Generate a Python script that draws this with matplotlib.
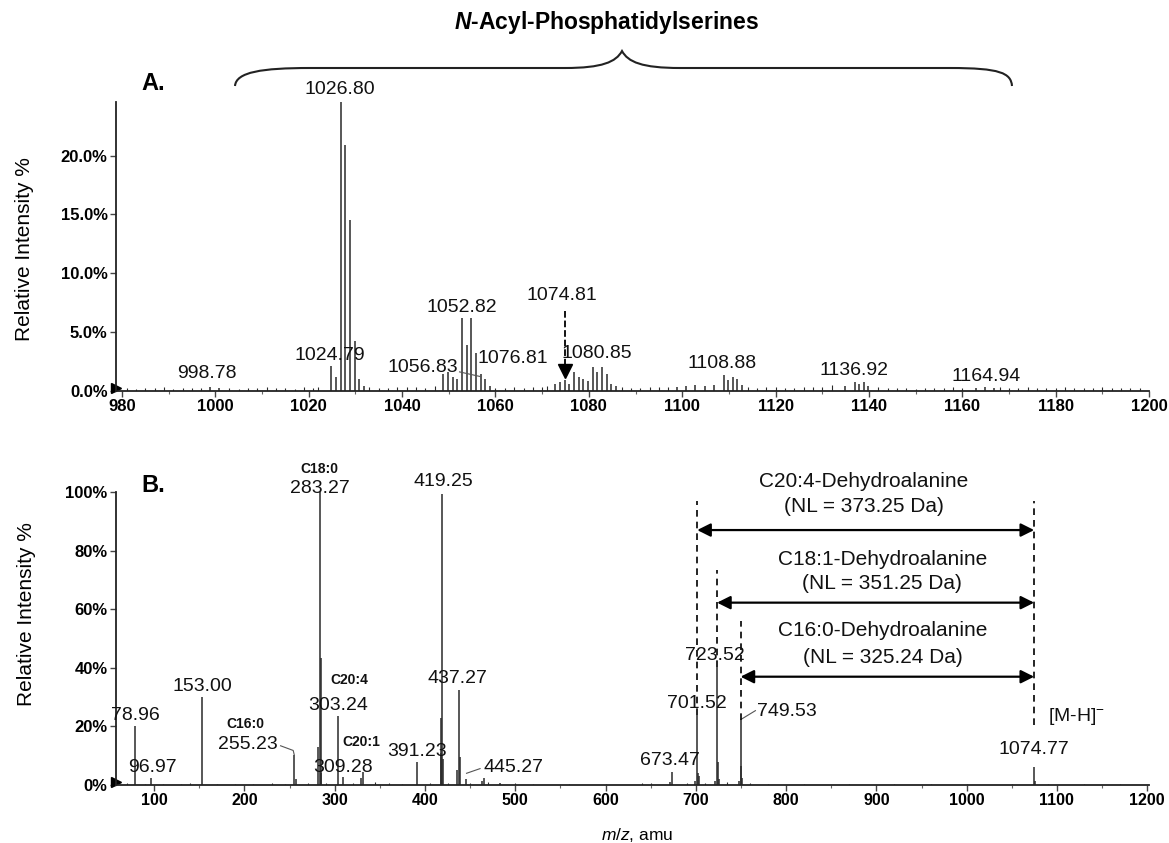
import matplotlib
matplotlib.use("Agg")
import matplotlib.pyplot as plt
from matplotlib.path import Path
from matplotlib.patches import PathPatch
from matplotlib.transforms import Affine2D

plt.rcParams['font.family'] = ['Liberation Sans', 'DejaVu Sans']
plt.rcParams['mathtext.fontset'] = 'custom'
plt.rcParams['mathtext.rm'] = 'Liberation Sans'
plt.rcParams['mathtext.it'] = 'Liberation Sans:italic'
plt.rcParams['mathtext.bf'] = 'Liberation Sans:bold'
plt.rcParams['mathtext.bfit'] = 'Liberation Sans:italic:bold'

# ---- Panel A: full scan, N-acyl-PS region ----
mz_a = [998.78, 1000.8, 1024.79, 1025.8, 1026.80, 1027.80, 1028.80, 1029.80, 1030.8, 1031.8,
        1048.8, 1049.8, 1050.8, 1051.8, 1052.82, 1053.8, 1054.82, 1055.8, 1056.83, 1057.8, 1058.8,
        1072.8, 1073.8, 1074.81, 1075.8, 1076.81, 1077.8, 1078.8, 1079.8, 1080.85, 1081.8,
        1082.85, 1083.8, 1084.8, 1085.8, 1098.8, 1100.8, 1102.8, 1104.8, 1106.8, 1108.88,
        1109.8, 1110.88, 1111.8, 1112.8, 1134.9, 1136.92, 1137.9, 1138.9, 1139.9, 1162.9,
        1164.94, 1166.9]
int_a = [0.35, 0.2, 2.1, 1.2, 24.6, 20.9, 14.5, 4.2, 1.0, 0.4,
         1.4, 1.6, 1.2, 1.0, 6.2, 3.9, 6.2, 3.2, 1.4, 1.0, 0.4,
         0.6, 0.7, 0.9, 0.6, 1.6, 1.2, 1.0, 0.8, 2.0, 1.6,
         2.0, 1.4, 0.6, 0.4, 0.3, 0.4, 0.5, 0.4, 0.5, 1.3,
         0.9, 1.2, 1.0, 0.5, 0.4, 0.7, 0.6, 0.7, 0.4, 0.25,
         0.3, 0.25]

noise_mz_a = [981, 983, 985, 987, 989, 991, 993, 995, 997, 1003, 1005, 1007, 1009, 1011,
              1013, 1015, 1017, 1019, 1021, 1022, 1033, 1035, 1037, 1039, 1041, 1043, 1045,
              1047, 1060, 1062, 1064, 1066, 1068, 1070, 1071, 1087, 1089, 1091, 1093, 1095,
              1097, 1114, 1116, 1118, 1120, 1122, 1124, 1126, 1128, 1130, 1132, 1142, 1144,
              1146, 1148, 1150, 1152, 1154, 1156, 1158, 1160, 1168, 1170, 1172, 1174, 1176,
              1178, 1180, 1182, 1184, 1186, 1188, 1190, 1192, 1194, 1196, 1198]
noise_int_a = [0.2, 0.15, 0.25, 0.2, 0.3, 0.15, 0.2, 0.25, 0.2, 0.2, 0.15, 0.25, 0.2, 0.3,
               0.2, 0.25, 0.15, 0.3, 0.2, 0.35, 0.3, 0.2, 0.25, 0.3, 0.35, 0.3, 0.25,
               0.4, 0.2, 0.25, 0.3, 0.2, 0.3, 0.35, 0.4, 0.3, 0.25, 0.2, 0.3, 0.35,
               0.3, 0.3, 0.25, 0.35, 0.3, 0.2, 0.25, 0.3, 0.35, 0.3, 0.45, 0.3, 0.25,
               0.2, 0.25, 0.15, 0.2, 0.25, 0.2, 0.3, 0.25, 0.3, 0.25, 0.2, 0.3, 0.25,
               0.2, 0.25, 0.3, 0.2, 0.25, 0.2, 0.3, 0.25, 0.2, 0.25, 0.2]

# labelled peaks in panel A: (text, x, y)
labels_a = [("1026.80", 1026.6, 25.6), ("1024.79", 1024.4, 3.0), ("998.78", 998.2, 1.5),
            ("1052.82", 1052.7, 7.1), ("1056.83", 1044.5, 2.0), ("1074.81", 1074.3, 8.1),
            ("1076.81", 1063.8, 2.75), ("1080.85", 1081.6, 3.2), ("1108.88", 1108.6, 2.3),
            ("1136.92", 1136.7, 1.7), ("1164.94", 1165.2, 1.2)]

# ---- Panel B: product ion spectrum of m/z 1074.77 ----
mz_b = [78.96, 96.97, 153.00, 255.23, 257.2, 281.25, 283.27, 284.27, 285.3, 303.24, 309.28,
        329.2, 331.26, 391.23, 417.25, 418.25, 419.25, 420.25, 435.3, 437.27, 438.27,
        445.27, 463.3, 465.3, 483.3, 671.5, 673.47, 699.5, 701.52, 702.5, 703.5, 721.5,
        723.52, 724.5, 725.5, 747.5, 749.53, 750.5, 751.5, 1074.77, 1075.8]
int_b = [20.2, 2.4, 30.2, 10.2, 2.0, 13.1, 100.0, 43.4, 4.0, 23.6, 2.6,
         2.5, 4.5, 8.0, 22.9, 11.0, 99.5, 9.0, 5.0, 32.5, 9.7,
         2.0, 1.5, 2.5, 0.8, 1.0, 4.5, 1.5, 23.9, 4.0, 3.0, 1.5,
         40.4, 8.0, 2.0, 1.5, 22.2, 6.5, 2.5, 6.3, 1.5]

noise_mz_b = [70, 90, 110, 130, 140, 170, 190, 210, 230, 245, 270, 290, 320, 345, 360, 375,
              405, 425, 450, 470, 500, 520, 560, 600, 640, 650, 690, 710, 735, 760, 780, 820,
              870, 920, 960, 1000, 1050, 1090, 1130, 1170]
noise_int_b = [0.6, 0.4, 0.5, 0.4, 0.7, 0.5, 0.4, 0.5, 0.6, 0.5, 0.8, 0.6, 0.7, 0.9, 0.6, 0.5,
               0.7, 0.8, 0.6, 0.9, 0.7, 0.5, 0.4, 0.5, 0.6, 0.8, 0.7, 0.8, 0.9, 0.6, 0.5, 0.4,
               0.4, 0.5, 0.4, 0.5, 0.4, 0.5, 0.4, 0.4]

labels_b = [("283.27", 283.0, 101.4, 14), ("C18:0", 283.0, 107.9, 10),
            ("419.25", 420.0, 103.6, 14), ("153.00", 153.8, 33.8, 14),
            ("78.96", 79.4, 23.9, 14), ("96.97", 97.7, 6.0, 14),
            ("C16:0", 201.4, 20.8, 10), ("255.23", 203.4, 13.7, 14),
            ("C20:4", 315.6, 35.9, 10), ("303.24", 303.7, 27.0, 14),
            ("C20:1", 329.1, 14.8, 10), ("309.28", 309.2, 6.0, 14),
            ("391.23", 391.7, 11.4, 14), ("437.27", 436.1, 36.5, 14),
            ("445.27", 497.5, 6.0, 14), ("673.47", 671.6, 8.3, 14),
            ("701.52", 701.5, 27.9, 14), ("723.52", 720.7, 44.4, 14),
            ("749.53", 800.6, 25.0, 14), ("1074.77", 1075.0, 12.0, 14),
            ("[M-H]$^{-}$", 1121.9, 23.3, 14)]

# neutral losses from the precursor: (fragment m/z, top of guide, arrow height, name, NL, text heights)
precursor = 1074.77
fragments = [701.52, 723.52, 749.53]
frag_heights = [23.9, 40.4, 22.2]
guide_tops = [97.0, 73.5, 56.0]
arrow_y = [87.1, 62.3, 37.0]
nl_names = ["C20:4-Dehydroalanine", "C18:1-Dehydroalanine", "C16:0-Dehydroalanine"]
nl_values = ["(NL = 373.25 Da)", "(NL = 351.25 Da)", "(NL = 325.24 Da)"]
nl_name_y = [103.6, 77.2, 52.7]
nl_value_y = [95.1, 68.7, 43.7]
nl_text_x = [885.7, 906.7, 906.7]

W, H = 1169, 843
fig = plt.figure(figsize=(W / 100, H / 100), dpi=100)
ax_a = fig.add_axes([116 / W, (H - 390.7) / H, 1033 / W, 289 / H])
ax_b = fig.add_axes([116 / W, (H - 785) / H, 1033 / W, 292.7 / H])

peak_color = '#2a2a2a'


def style_axis(ax):
    for side in ['top', 'right']:
        ax.spines[side].set_visible(False)
    for side in ['left', 'bottom']:
        ax.spines[side].set_linewidth(1.3)
        ax.spines[side].set_color('#222222')
    ax.tick_params(axis='both', which='major', direction='out', length=4, width=1,
                   color='#444444', pad=2)
    ax.tick_params(axis='x', which='minor', direction='out', length=2.5, width=0.8,
                   color='#666666')
    for lbl in ax.get_xticklabels() + ax.get_yticklabels():
        lbl.set_fontweight('bold')


# panel A
ax_a.vlines(noise_mz_a, 0, noise_int_a, color=peak_color, lw=0.8)
ax_a.vlines(mz_a, 0, int_a, color=peak_color, lw=1.1)
ax_a.set_xlim(978.7, 1200)
ax_a.set_ylim(0, 24.6)
ax_a.set_xticks(range(980, 1201, 20))
ax_a.set_xticks(range(990, 1200, 20), minor=True)
ax_a.set_yticks([0, 5, 10, 15, 20])
ax_a.set_yticklabels(['0.0%', '5.0%', '10.0%', '15.0%', '20.0%'])
ax_a.tick_params(axis='x', labelsize=12)
ax_a.tick_params(axis='y', labelsize=12)
style_axis(ax_a)
ax_a.plot(ax_a.get_xlim()[0], 0.25, marker='>', ms=7, color='k', clip_on=False)

for text, x, y in labels_a:
    ax_a.text(x, y, text, ha='center', va='center', fontsize=14, color='#111111')

# dashed pointer to the precursor chosen for MS/MS
ax_a.plot([1074.81, 1074.81], [6.8, 2.3], ls='--', color='k', lw=1.3)
ax_a.plot(1074.81, 1.7, marker='v', ms=10, color='k')
# leader for 1056.83
ax_a.plot([1052.3, 1056.8], [1.6, 1.2], color='#555555', lw=0.8)

# panel B
ax_b.vlines(noise_mz_b, 0, noise_int_b, color=peak_color, lw=0.8)
ax_b.vlines(mz_b, 0, int_b, color=peak_color, lw=1.1)
ax_b.set_xlim(57.7, 1202)
ax_b.set_ylim(0, 100)
ax_b.set_xticks(range(100, 1201, 100))
ax_b.set_xticks(range(150, 1200, 100), minor=True)
ax_b.set_yticks([0, 20, 40, 60, 80, 100])
ax_b.set_yticklabels(['0%', '20%', '40%', '60%', '80%', '100%'])
ax_b.tick_params(axis='x', labelsize=11.5)
ax_b.tick_params(axis='y', labelsize=12)
style_axis(ax_b)
ax_b.plot(ax_b.get_xlim()[0], 1.0, marker='>', ms=7, color='k', clip_on=False)

for text, x, y, size in labels_b:
    weight = 'bold' if size < 12 else 'normal'
    ax_b.text(x, y, text, ha='center', va='center', fontsize=size, color='#111111',
              fontweight=weight)

# leader lines from shifted labels to their peaks
ax_b.plot([240, 254, 255.23], [13.4, 11.8, 10.2], color='#555555', lw=0.8)
ax_b.plot([461, 446], [5.6, 4.0], color='#555555', lw=0.8)
ax_b.plot([766, 750], [25.4, 22.4], color='#555555', lw=0.8)

# neutral loss guides and double arrows
guide_style = dict(ls=(0, (4, 3)), color='k', lw=1.2, clip_on=False)
ax_b.plot([precursor, precursor], [20.5, guide_tops[0]], **guide_style)
for frag, h, top in zip(fragments, frag_heights, guide_tops):
    ax_b.plot([frag, frag], [h, top], **guide_style)

for frag, ay in zip(fragments, arrow_y):
    ax_b.annotate('', xy=(frag, ay), xytext=(precursor, ay),
                  arrowprops=dict(arrowstyle='<|-|>', color='k', lw=1.6,
                                  mutation_scale=20, shrinkA=0, shrinkB=0))

for name, nl, x, yn, yv in zip(nl_names, nl_values, nl_text_x, nl_name_y, nl_value_y):
    ax_b.text(x, yn, name, ha='center', va='center', fontsize=15, color='#111111')
    ax_b.text(x, yv, nl, ha='center', va='center', fontsize=15, color='#111111')

# axis titles, panel letters and header
fig.text(25 / W, 1 - 249 / H, 'Relative Intensity %', rotation=90, ha='center',
         va='center', fontsize=15)
fig.text(27 / W, 1 - 614 / H, 'Relative Intensity %', rotation=90, ha='center',
         va='center', fontsize=15)
fig.text(637 / W, 1 - 835 / H, r'$m/z$, amu', ha='center', va='center', fontsize=12.5)
fig.text(153 / W, 1 - 83.3 / H, 'A.', ha='center', va='center', fontsize=17,
         fontweight='bold')
fig.text(153.3 / W, 1 - 486 / H, 'B.', ha='center', va='center', fontsize=17,
         fontweight='bold')
fig.text(606.7 / W, 1 - 22 / H, r'$\mathbfit{N}$-Acyl-Phosphatidylserines', ha='center',
         va='center', fontsize=16.5, fontweight='bold')

# curly brace spanning the N-acyl-PS species, in pixel units from top-left
px = Affine2D().scale(1 / W, -1 / H).translate(0, 1) + fig.transFigure
brace_verts = [(235, 86), (236, 72), (262, 68), (310, 68),
               (565, 68),
               (602, 68), (616, 62), (622, 51),
               (628, 62), (642, 68), (680, 68),
               (950, 68),
               (1000, 68), (1011, 73), (1012, 86)]
brace_codes = [Path.MOVETO, Path.CURVE4, Path.CURVE4, Path.CURVE4,
               Path.LINETO,
               Path.CURVE4, Path.CURVE4, Path.CURVE4,
               Path.CURVE4, Path.CURVE4, Path.CURVE4,
               Path.LINETO,
               Path.CURVE4, Path.CURVE4, Path.CURVE4]
fig.patches.append(PathPatch(Path(brace_verts, brace_codes), transform=px, fill=False,
                             lw=1.5, edgecolor='#222222'))

fig.savefig('out.png', dpi=100, facecolor='white')
